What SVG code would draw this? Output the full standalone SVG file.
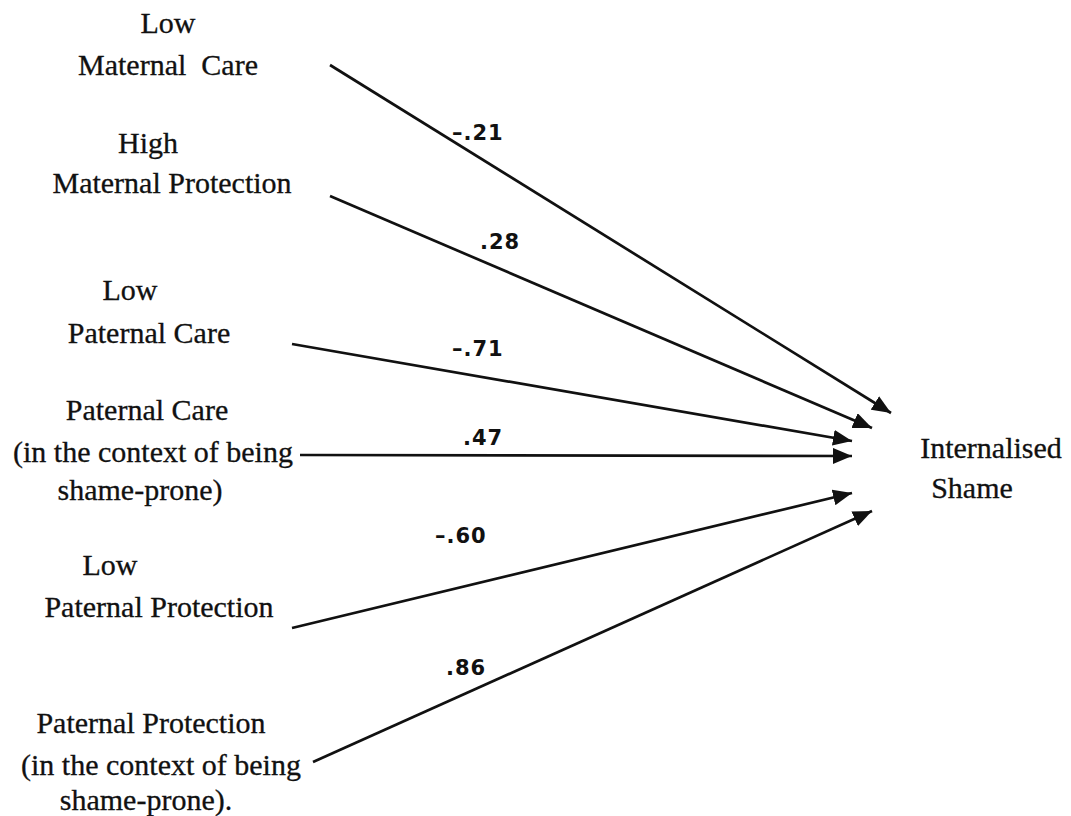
<svg xmlns="http://www.w3.org/2000/svg" width="1071" height="816" viewBox="0 0 1071 816">
  <style>
    .lbl { font-family: "Liberation Serif", "Times New Roman", serif; font-size: 30px; fill: #111; stroke: #111; stroke-width: 0.3; text-anchor: middle; }
    .coef { font-family: "DejaVu Sans", "Liberation Sans", sans-serif; font-size: 21px; font-weight: bold; fill: #111; letter-spacing: 1px; }
    .path { stroke: #111; stroke-width: 2.7; fill: none; }
  </style>
  <defs>
    <marker id="arrow" markerUnits="userSpaceOnUse" markerWidth="20" markerHeight="16" refX="19" refY="8" orient="auto">
      <path d="M0,0 L19,8 L0,16 Z" fill="#111"/>
    </marker>
  </defs>
  <rect width="1071" height="816" fill="#ffffff"/>

  <!-- predictors -->
  <g id="low-maternal-care">
    <text class="lbl" x="168" y="33">Low</text>
    <text class="lbl" x="168" y="75" xml:space="preserve">Maternal  Care</text>
  </g>
  <g id="high-maternal-protection">
    <text class="lbl" x="148" y="153">High</text>
    <text class="lbl" x="172" y="193">Maternal Protection</text>
  </g>
  <g id="low-paternal-care">
    <text class="lbl" x="130" y="300">Low</text>
    <text class="lbl" x="149" y="343">Paternal Care</text>
  </g>
  <g id="paternal-care-shame-prone">
    <text class="lbl" x="147" y="420">Paternal Care</text>
    <text class="lbl" x="153" y="462">(in the context of being</text>
    <text class="lbl" x="140" y="500">shame-prone)</text>
  </g>
  <g id="low-paternal-protection">
    <text class="lbl" x="110" y="575">Low</text>
    <text class="lbl" x="159" y="617">Paternal Protection</text>
  </g>
  <g id="paternal-protection-shame-prone">
    <text class="lbl" x="151" y="733">Paternal Protection</text>
    <text class="lbl" x="161" y="775">(in the context of being</text>
    <text class="lbl" x="146" y="810">shame-prone).</text>
  </g>

  <!-- outcome -->
  <g id="internalised-shame">
    <text class="lbl" x="991" y="458">Internalised</text>
    <text class="lbl" x="972" y="498">Shame</text>
  </g>

  <!-- paths with coefficients -->
  <g id="connectors">
    <line class="path" x1="330" y1="65" x2="891" y2="413" marker-end="url(#arrow)"/>
    <line class="path" x1="330" y1="196" x2="872" y2="428" marker-end="url(#arrow)"/>
    <line class="path" x1="292" y1="344" x2="852" y2="441" marker-end="url(#arrow)"/>
    <line class="path" x1="300" y1="455" x2="852" y2="456" marker-end="url(#arrow)"/>
    <line class="path" x1="292" y1="628" x2="852" y2="493" marker-end="url(#arrow)"/>
    <line class="path" x1="313" y1="762" x2="872" y2="511" marker-end="url(#arrow)"/>
    <text class="coef" x="452" y="140">–.21</text>
    <text class="coef" x="480" y="249">.28</text>
    <text class="coef" x="452" y="356">–.71</text>
    <text class="coef" x="463" y="445">.47</text>
    <text class="coef" x="435" y="543">–.60</text>
    <text class="coef" x="446" y="675">.86</text>
  </g>
</svg>
